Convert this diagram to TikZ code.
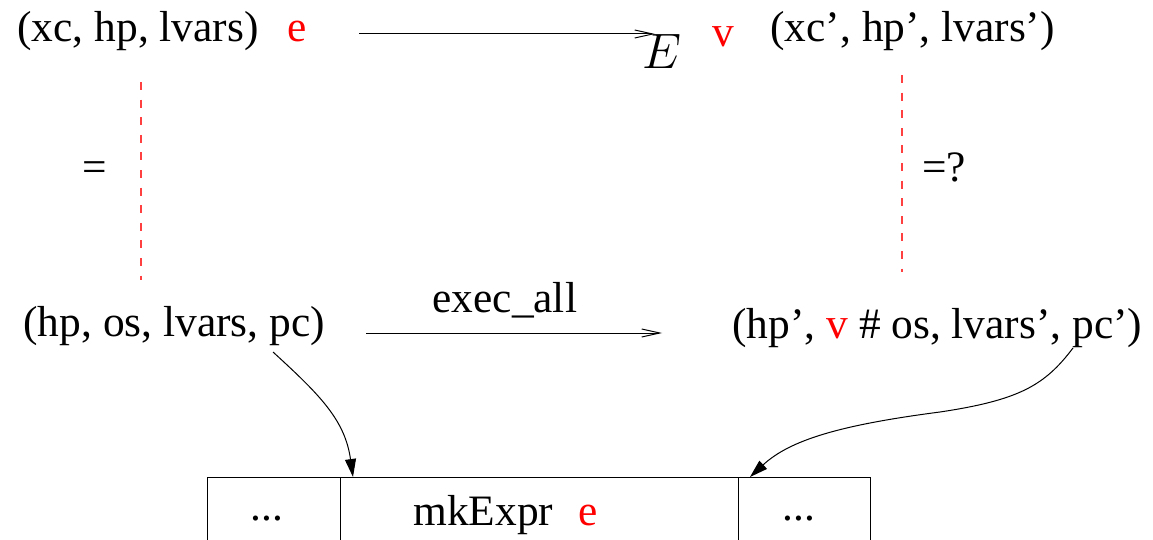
\documentclass[tikz,border=0pt]{standalone}
\usepackage{fontspec}
\setmainfont{Liberation Serif}
\usetikzlibrary{arrows.meta}
\definecolor{termred}{rgb}{1,0,0}
\definecolor{dashred}{rgb}{1,0.25,0.25}

\begin{document}
\begin{tikzpicture}[x=0.5pt, y=-0.5pt, line width=0.5pt,
		font=\fontsize{21.7}{26}\selectfont,
		every node/.style={inner sep=0pt, anchor=base west},
		openarrow/.style={-{Straight Barb[length=9pt,width=4pt]}},
		fillarrow/.style={-{Triangle[length=9pt,width=5.5pt]}},
		eqline/.style={draw=dashred, line width=0.8pt, dash pattern=on 4pt off 4.8pt},
		cell/.style={draw, anchor=north west, minimum height=50pt}]
		\useasboundingbox (0,0) rectangle (1153,540);
		\clip (0,0) rectangle (1153,540);
		\node (src) at (17,42) {(xc, hp, lvars)};
		\node[text=termred] (expr) at (287,42) {e};
		\node[font=\fontsize{23}{28}\selectfont] (evalrel) at (642,69) {$E$};
		\node[text=termred] (val) at (712,47) {v};
		\node (dst) at (770,42) {(xc', hp', lvars')};
		\coordinate (ta) at (359,34);
		\coordinate (tb) at (655,34);
		\draw[openarrow] (ta) -- (tb);
		\coordinate (la) at (141,82);
		\coordinate (lb) at (141,280);
		\draw[eqline] (la) -- (lb);
		\coordinate (ra) at (902,75);
		\coordinate (rb) at (902,272);
		\draw[eqline] (ra) -- (rb);
		\node (eq) at (82,182) {=};
		\node (eqq) at (922,182) {=?};
		\node (jsrc) at (23,336) {(hp, os, lvars, pc)};
		\node (exec) at (432,313) {exec\_all};
		\node (jdst) at (732,338) {(hp', \textcolor{termred}{v} \# os, lvars', pc')};
		\coordinate (ba) at (366,333);
		\coordinate (bb) at (662,333);
		\draw[openarrow] (ba) -- (bb);
		\node[cell, minimum width=66.5pt] (c1) at (207,477) {};
		\node[cell, minimum width=199pt] (c2) at (340,477) {};
		\node[cell, minimum width=66pt] (c3) at (738,477) {};
		\node[anchor=base] (d1) at (267,520) {...};
		\node (mk) at (413,525) {mkExpr};
		\node[text=termred] (mke) at (578,525) {e};
		\node[anchor=base] (d2) at (799,520) {...};
		\coordinate (pcl) at (273,352);
		\coordinate (inl) at (353,477);
		\draw[fillarrow] (pcl) .. controls (320,395) and (345,420) .. (inl);
		\coordinate (pcr) at (1073,348);
		\coordinate (inr) at (750,477);
		\draw[fillarrow] (pcr) .. controls (1045,385) and (1020,400) .. (940,412) .. controls (840,425) and (790,440) .. (inr);
	\end{tikzpicture}
\end{document}
